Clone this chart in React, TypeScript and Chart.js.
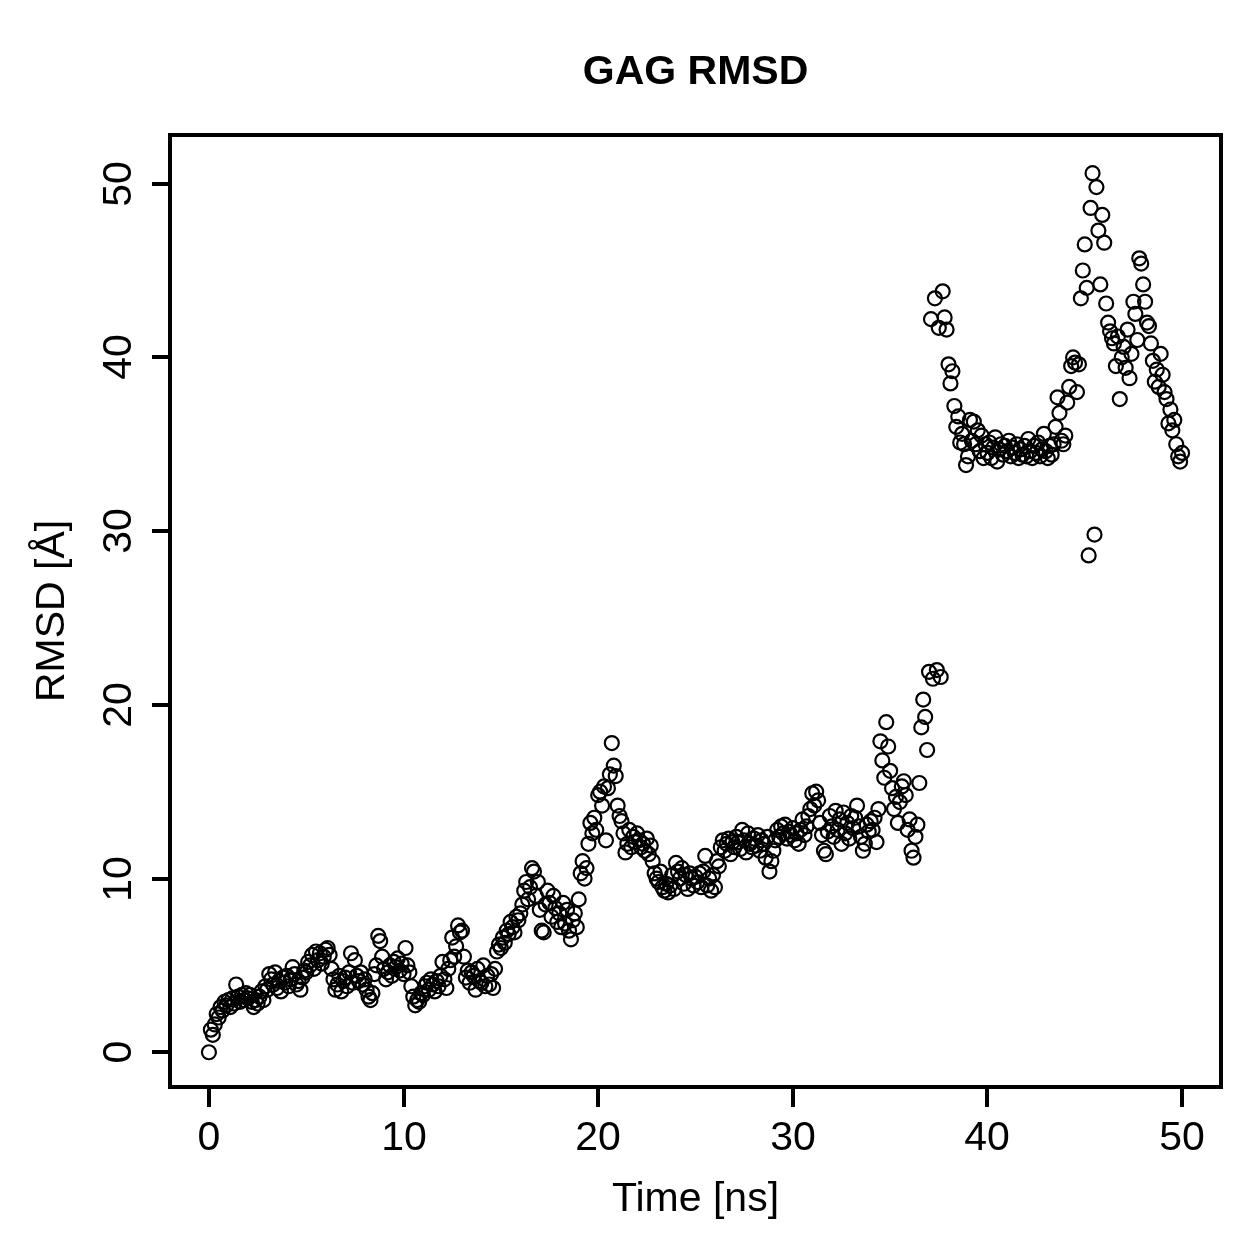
import { useEffect, useRef } from "react";
import { Chart, registerables } from "chart.js";

Chart.register(...registerables);

// Sampling interval of the trajectory frames (ns)
const TIME_STEP_NS = 0.1;

// GAG RMSD per frame (Å), one row per nanosecond
const rmsdAngstrom: number[] = [
  0.0, 1.3, 1.0, 1.6, 2.2, 2.0, 2.6, 2.4, 2.9, 2.7,
  3.0, 2.6, 3.1, 2.8, 3.9, 3.2, 2.9, 3.3, 3.0, 3.4,
  3.1, 3.3, 2.9, 2.6, 3.0, 2.8, 3.2, 3.5, 3.0, 3.8,
  3.6, 4.5, 4.2, 3.9, 4.6, 3.7, 4.1, 3.5, 4.3, 4.0,
  4.4, 3.8, 4.2, 4.9, 4.5, 3.9, 4.1, 3.6, 4.3, 4.7,
  4.6, 5.2, 5.0, 5.6, 4.8, 5.8, 5.3, 5.7, 5.1, 5.5,
  5.9, 6.0, 5.6, 4.8, 4.2, 3.6, 3.9, 4.4, 3.5, 4.1,
  4.3, 3.8, 4.6, 5.7, 4.0, 5.3, 4.4, 4.1, 4.6, 3.9,
  4.2, 3.6, 3.2, 3.0, 3.4, 4.5, 5.0, 6.7, 6.4, 5.5,
  4.8, 4.2, 4.6, 5.0, 4.4, 5.2, 4.9, 5.4, 4.7, 5.1,
  4.5, 6.0, 5.0, 4.6, 3.8, 3.2, 2.7, 3.0, 2.9, 3.4,
  3.3, 3.8, 4.0, 3.6, 4.2, 3.9, 3.5, 4.1, 3.8, 4.4,
  5.2, 4.2, 3.7, 4.8, 5.3, 6.6, 5.5, 6.1, 7.3, 6.9,
  7.0, 5.5, 4.3, 4.7, 4.0, 4.6, 4.4, 3.6, 4.8, 4.1,
  4.0, 5.0, 3.8, 4.4, 3.9, 4.5, 3.7, 4.8, 5.8, 6.2,
  6.0, 6.6, 6.3, 7.0, 6.8, 7.5, 7.2, 6.9, 7.8, 7.6,
  8.0, 8.5, 9.3, 9.8, 8.8, 9.5, 10.6, 10.4, 9.0, 9.8,
  8.2, 7.0, 6.9, 8.5, 9.3, 8.6, 7.8, 9.0, 8.3, 7.5,
  8.0, 7.2, 8.6, 7.4, 8.2, 7.0, 6.5, 7.6, 8.0, 7.2,
  8.8, 10.3, 11.0, 10.0, 10.6, 12.0, 13.2, 12.6, 13.5, 12.8,
  14.8, 15.0, 14.2, 15.3, 12.2, 15.2, 16.0, 17.8, 16.5, 15.9,
  14.2, 13.6, 13.3, 12.6, 11.5, 12.0, 12.8, 11.8, 12.4, 12.1,
  12.6, 12.2, 11.8, 12.0, 11.6, 12.3, 11.4, 11.9, 11.0, 10.3,
  10.0, 9.8, 10.4, 9.5, 9.3, 9.7, 9.2, 9.6, 10.2, 9.4,
  10.9, 10.4, 10.0, 10.6, 9.7, 10.2, 9.4, 10.3, 10.0, 9.6,
  10.1, 9.8, 10.3, 9.5, 10.4, 11.3, 9.6, 10.0, 9.3, 10.2,
  9.5, 11.0, 10.7, 11.8, 12.2, 11.6, 12.0, 12.3, 11.4, 12.1,
  11.8, 12.4, 12.1, 11.7, 12.8, 12.2, 11.5, 12.6, 12.0, 11.8,
  12.3, 11.9, 12.5, 11.6, 12.2, 12.0, 11.2, 12.4, 10.4, 11.0,
  11.6, 12.2, 12.8, 12.4, 13.0, 12.6, 13.1, 12.3, 12.7, 12.5,
  12.9, 12.2, 12.6, 12.0, 12.8, 13.4, 12.5, 13.0, 13.6, 14.0,
  14.9, 14.2, 15.0, 14.5, 13.2, 12.5, 11.6, 11.4, 12.7, 13.6,
  13.0, 12.4, 13.9, 12.8, 13.4, 12.0, 13.8, 12.6, 13.2, 12.3,
  13.6, 12.9, 13.5, 14.2, 13.0, 12.4, 11.6, 12.0, 13.1, 12.7,
  13.3, 12.8, 13.5, 12.1, 14.0, 17.9, 16.8, 15.8, 19.0, 17.6,
  16.2, 15.2, 14.0, 14.7, 13.2, 14.4, 15.3, 15.6, 14.8, 12.8,
  13.4, 11.6, 11.2, 12.4, 13.1, 15.5, 18.7, 20.3, 19.3, 17.4,
  21.9, 42.2, 21.5, 43.4, 22.0, 41.7, 21.6, 43.8, 42.3, 41.6,
  39.6, 38.5, 39.2, 37.2, 36.0, 36.6, 35.1, 35.6, 35.0, 33.8,
  34.3, 36.4, 35.2, 36.3, 35.0, 35.8, 34.6, 35.5, 34.2, 35.0,
  34.5, 35.1, 34.2, 34.8, 35.4, 34.0, 34.7, 35.0, 34.4, 34.9,
  34.6, 35.2, 34.3, 34.8, 34.5, 35.0, 34.2, 34.7, 34.4, 34.9,
  34.3, 35.3, 34.6, 34.2, 34.9, 34.5, 35.1, 34.3, 34.7, 35.6,
  34.6, 34.2, 34.9, 34.4, 35.0, 36.0, 37.7, 36.8, 35.2, 35.0,
  35.5, 37.4, 38.3, 39.5, 40.0, 39.7, 38.0, 39.6, 43.4, 45.0,
  46.5, 44.0, 28.6, 48.6, 50.6, 29.8, 49.8, 47.3, 44.2, 48.2,
  46.6, 43.1, 42.0, 41.5, 41.1, 40.8, 39.5, 41.2, 37.6, 40.0,
  40.6, 39.4, 41.6, 38.8, 40.2, 43.2, 42.5, 41.0, 45.7, 45.4,
  44.2, 43.2, 42.0, 41.8, 40.8, 39.8, 38.6, 39.3, 38.3, 40.2,
  39.0, 38.0, 37.6, 36.2, 37.0, 35.8, 36.4, 35.0, 34.3, 34.0,
  34.5,
];

const xTicks = [0, 10, 20, 30, 40, 50];
const yTicks = [0, 10, 20, 30, 40, 50];

const TITLE = "GAG RMSD";
const X_TITLE = "Time [ns]";
const Y_TITLE = "RMSD [Å]";

const FONT = "'Liberation Sans', Arial, Helvetica, sans-serif";
const MARKER_RADIUS = 7;
const MARKER_STROKE = 2.2;

const frameAxesPlugin = {
  id: "frameAxes",
  afterDraw(chart: any) {
    const { ctx, chartArea, scales } = chart;
    const xs = scales.x;
    const ys = scales.y;
    const { left, right, top, bottom } = chartArea;
    ctx.save();
    ctx.strokeStyle = "#000";
    ctx.fillStyle = "#000";
    ctx.lineWidth = 4;
    ctx.lineCap = "butt";

    // plot frame
    ctx.strokeRect(left, top, right - left, bottom - top);

    // x axis ticks & labels
    ctx.font = `41px ${FONT}`;
    ctx.textAlign = "center";
    ctx.textBaseline = "alphabetic";
    for (const v of xTicks) {
      const px = Math.round(xs.getPixelForValue(v));
      ctx.beginPath();
      ctx.moveTo(px, bottom);
      ctx.lineTo(px, bottom + 20);
      ctx.stroke();
      ctx.fillText(String(v), px, 1150);
    }

    // y axis ticks & labels (rotated, reading upward)
    for (const v of yTicks) {
      const py = Math.round(ys.getPixelForValue(v));
      ctx.beginPath();
      ctx.moveTo(left, py);
      ctx.lineTo(left - 18, py);
      ctx.stroke();
      ctx.save();
      ctx.translate(131, py);
      ctx.rotate(-Math.PI / 2);
      ctx.fillText(String(v), 0, 0);
      ctx.restore();
    }

    // axis titles
    ctx.fillText(X_TITLE, (left + right) / 2, 1211);
    ctx.save();
    ctx.translate(64, (top + bottom) / 2);
    ctx.rotate(-Math.PI / 2);
    ctx.fillText(Y_TITLE, 0, 0);
    ctx.restore();

    // main title
    ctx.font = `bold 41px ${FONT}`;
    ctx.fillText(TITLE, (left + right) / 2, 84);
    ctx.restore();
  },
};

export default function App() {
  const canvasRef = useRef<HTMLCanvasElement | null>(null);

  useEffect(() => {
    document.body.style.margin = "0";
    document.body.style.background = "#fff";
    const canvas = canvasRef.current;
    if (!canvas) return;

    const points = rmsdAngstrom.map((y, i) => ({ x: i * TIME_STEP_NS, y }));

    const chart = new Chart(canvas, {
      type: "scatter",
      data: {
        datasets: [
          {
            data: points,
            pointStyle: "circle",
            pointRadius: MARKER_RADIUS,
            pointHoverRadius: MARKER_RADIUS,
            pointBorderWidth: MARKER_STROKE,
            pointHoverBorderWidth: MARKER_STROKE,
            pointBorderColor: "#000",
            pointBackgroundColor: "rgba(0,0,0,0)",
            borderColor: "#000",
            backgroundColor: "rgba(0,0,0,0)",
            showLine: false,
          } as any,
        ],
      },
      options: {
        responsive: false,
        animation: false,
        events: [],
        elements: {
          point: {
            pointStyle: "circle",
            radius: MARKER_RADIUS,
            hoverRadius: MARKER_RADIUS,
            borderWidth: MARKER_STROKE,
            hoverBorderWidth: MARKER_STROKE,
            borderColor: "#000",
            backgroundColor: "rgba(0,0,0,0)",
          },
        },
        layout: { padding: { left: 170, right: 38, top: 135, bottom: 172 } },
        plugins: {
          legend: { display: false },
          tooltip: { enabled: false },
          title: { display: false },
        },
        scales: {
          x: { type: "linear", min: -2, max: 52, display: false },
          y: { type: "linear", min: -2, max: 52.8, display: false },
        },
      },
      plugins: [frameAxesPlugin],
    });

    return () => chart.destroy();
  }, []);

  return (
    <canvas
      ref={canvasRef}
      width={1259}
      height={1259}
      style={{ display: "block", width: 1259, height: 1259, background: "#fff" }}
    />
  );
}
